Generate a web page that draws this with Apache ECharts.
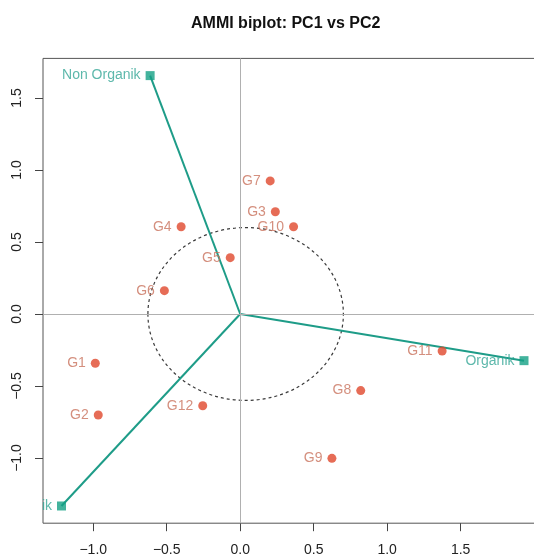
<!DOCTYPE html>
<html><head><meta charset="utf-8">
<script src="https://cdn.jsdelivr.net/npm/echarts@6/dist/echarts.min.js"></script>
<style>html,body{margin:0;padding:0;background:#fff;overflow:hidden;width:534px;height:558px}#c{width:543px;height:558px}</style>
</head><body><div id="c"></div>
<script>
const genNames = ['G1','G2','G3','G4','G5','G6','G7','G8','G9','G10','G11','G12'];
const genPC1 = [-0.986,-0.966,0.239,-0.402,-0.068,-0.516,0.204,0.820,0.624,0.363,1.374,-0.255];
const genPC2 = [-0.342,-0.701,0.710,0.606,0.391,0.162,0.924,-0.532,-1.002,0.606,-0.257,-0.637];
const envNames = ['Non Organik','Organik','Anorganik'];
const envPC1 = [-0.613,1.931,-1.216];
const envPC2 = [1.655,-0.324,-1.333];
const xTicks = [-1.0,-0.5,0.0,0.5,1.0,1.5];
const yTicks = [-1.0,-0.5,0.0,0.5,1.0,1.5];
const titleText = 'AMMI biplot: PC1 vs PC2';

const FONT = "'Liberation Sans', Arial, sans-serif";
const allX = genPC1.concat(envPC1, [0]);
const allY = genPC2.concat(envPC2, [0]);
function ext(a){const mn=Math.min(...a),mx=Math.max(...a),r=mx-mn;return [mn-0.04*r,mx+0.04*r];}
const [xMin,xMax] = ext(allX);
const [yMin,yMax] = ext(allY);
const fmt = v => (v<0?'\u2212':'') + Math.abs(v).toFixed(1);

const chart = echarts.init(document.getElementById('c'), null, {renderer:'canvas'});
const envLines = envNames.map((n,i)=>({
  type:'line', name:n+'-vec', data:[[0,0],[envPC1[i],envPC2[i]]], showSymbol:false,
  lineStyle:{color:'#1E9C88', width:2}, z:3, silent:true, animation:false
}));
chart.setOption({
  animation:false,
  textStyle:{fontFamily:FONT},
  title:{text:titleText, left:191, top:16, padding:0,
    textStyle:{fontFamily:FONT, fontSize:16, fontWeight:'bold', color:'#111'}},
  grid:{left:43, top:58.4, right:0.5, bottom:34.8, show:true, borderColor:'#555', borderWidth:1, containLabel:false},
  xAxis:{type:'value', min:xMin, max:xMax, splitLine:{show:false}, axisLine:{show:false, onZero:false},
    axisTick:{show:true, customValues:xTicks, length:8, lineStyle:{color:'#444'}},
    axisLabel:{customValues:xTicks, formatter:fmt, margin:20, fontSize:14, color:'#222', fontFamily:FONT}},
  yAxis:{type:'value', min:yMin, max:yMax, splitLine:{show:false}, axisLine:{show:false, onZero:false},
    axisTick:{show:true, customValues:yTicks, length:8, lineStyle:{color:'#444'}},
    axisLabel:{customValues:yTicks, formatter:fmt, margin:19, rotate:90, fontSize:14, color:'#222', fontFamily:FONT}},
  series:[
    {type:'scatter', data:[], silent:true, z:1,
      markLine:{silent:true, symbol:'none', label:{show:false}, animation:false,
        lineStyle:{color:'#B0B0B0', width:1, type:'solid'},
        data:[{xAxis:0},{yAxis:0}]}},
    ...envLines,
    {type:'scatter', name:'env', data:envNames.map((n,i)=>[envPC1[i],envPC2[i],n]),
      symbol:'rect', symbolSize:9, itemStyle:{color:'#14A085'}, z:5,
      label:{show:true, position:'left', distance:5, formatter:p=>p.data[2], color:'#35A696', fontSize:14, fontFamily:FONT}},
    {type:'scatter', name:'gen', data:genNames.map((n,i)=>[genPC1[i],genPC2[i],n]),
      symbol:'circle', symbolSize:9, itemStyle:{color:'#E0472C'}, z:5,
      label:{show:true, position:'left', distance:5, formatter:p=>p.data[2], color:'#C9735E', fontSize:14, fontFamily:FONT}}
  ]
});
// dashed reference ellipse in data units; mask clips the labels at the plot region (as R's xpd=FALSE)
const circCenter = [0.037, 0], circRx = 0.665, circRy = 0.60;
const c0 = chart.convertToPixel({gridIndex:0}, circCenter);
const cx1 = chart.convertToPixel({gridIndex:0}, [circCenter[0]+circRx, 0]);
const cy1 = chart.convertToPixel({gridIndex:0}, [circCenter[0], circRy]);
const rect = chart.getModel().getComponent('grid',0).coordinateSystem.getRect();
const clipped = chart.convertToPixel({gridIndex:0}, [envPC1[2], envPC2[2]]);
chart.setOption({graphic:[
  {type:'ellipse', silent:true, z:2,
    shape:{cx:c0[0], cy:c0[1], rx:Math.abs(cx1[0]-c0[0]), ry:Math.abs(c0[1]-cy1[1])},
    style:{fill:null, stroke:'#3a3a3a', lineWidth:1.2, lineDash:[3,3]}},
  {type:'rect', silent:true, z:100,
    shape:{x:0, y:clipped[1]-10, width:rect.x - 1, height:20},
    style:{fill:'#fff'}}
]});
</script></body></html>
